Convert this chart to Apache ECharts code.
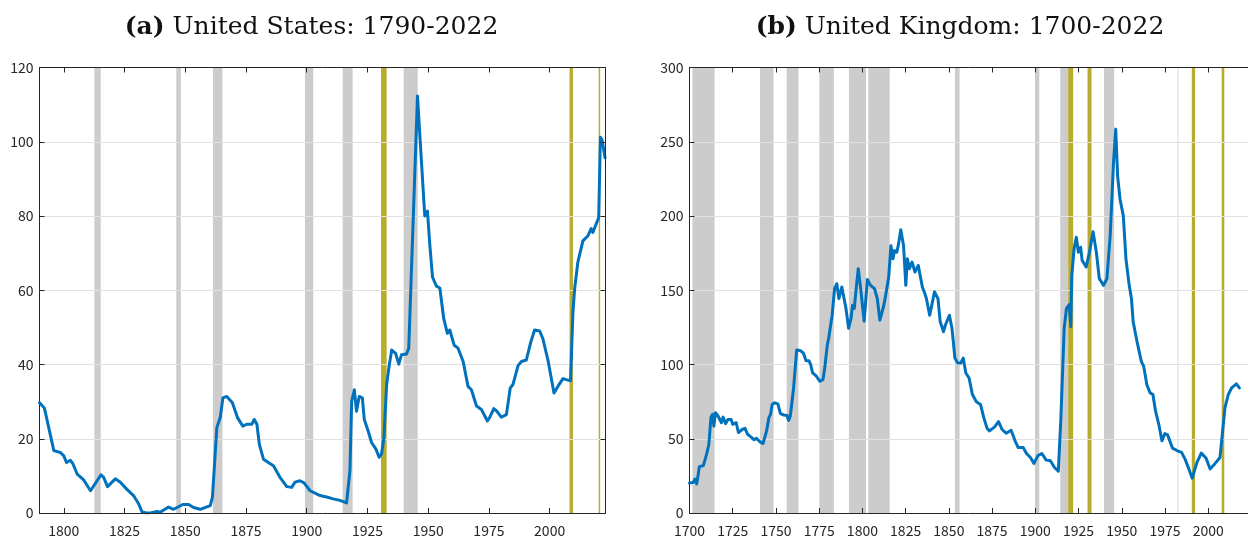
<!DOCTYPE html>
<html>
<head>
<meta charset="utf-8">
<script src="https://cdn.jsdelivr.net/npm/echarts@6/dist/echarts.min.js"></script>
<style>
  html, body { margin: 0; padding: 0; background: #ffffff; }
  #chart { width: 1248px; height: 538px; }
</style>
</head>
<body>
<div id="chart"></div>
<script>
// Public debt as a share of GDP (%).
const usYears = [1790, 1792, 1793.8, 1795.9, 1798.6, 1800, 1801.1, 1802.7, 1803.8, 1805.5, 1808.2, 1811,
  1813.7, 1815.3, 1816.4, 1818, 1821.2, 1823.3, 1825.8, 1828.7, 1830.8, 1832.2, 1834, 1836, 1838.4, 1839.7,
  1843.1, 1845.2, 1849, 1851.4, 1853.4, 1856.2, 1860.3, 1861.2, 1863, 1864.4, 1865.5, 1867.1, 1869.4, 1871.5,
  1873.7, 1875.3, 1877.4, 1878.4, 1879.5, 1880.5, 1882.2, 1884.2, 1886.3, 1889, 1891.8, 1893.8, 1895.2, 1897.2,
  1898.9, 1901.4, 1905.5, 1908.2, 1910.9, 1913.7, 1916.4, 1917.8, 1918.5, 1919.6, 1920.5, 1921.6, 1922.9,
  1923.7, 1925.3, 1926.7, 1928.5, 1929.8, 1930.8, 1931.8, 1932.9, 1934, 1935, 1936.6, 1937.9, 1939, 1941.1,
  1942, 1945.6, 1948.6, 1949.7, 1950.7, 1951.8, 1953.4, 1954.8, 1956.4, 1957.9, 1958.9, 1960.7, 1962.3,
  1964.4, 1966.4, 1967.8, 1969.9, 1971.9, 1974.4, 1975.3, 1977, 1978.3, 1980.1, 1982.2, 1983.8, 1984.9, 1987,
  1988.4, 1990.4, 1992.1, 1993.8, 1995.9, 1997.2, 1999.3, 2001.8, 2003.4, 2005.5, 2008.6, 2009.6, 2010.3,
  2011.6, 2013.7, 2015.7, 2017.1, 2017.8, 2020.2, 2020.9, 2021.6, 2022.8];
const usDebt = [29.7, 28.3, 23.0, 16.8, 16.3, 15.4, 13.6, 14.2, 13.2, 10.5, 8.9, 6.0,
  8.7, 10.3, 9.6, 7.1, 9.2, 8.3, 6.5, 4.7, 2.5, 0.3, 0.0, 0.1, 0.4, 0.2,
  1.6, 1.0, 2.3, 2.3, 1.5, 1.0, 2.0, 4.3, 23.0, 25.7, 31.0, 31.4, 29.7, 25.7,
  23.4, 23.9, 23.9, 25.2, 23.9, 18.5, 14.5, 13.6, 12.7, 9.6, 7.1, 6.9, 8.3, 8.7,
  8.1, 6.0, 4.7, 4.3, 3.8, 3.4, 2.7, 11.4, 30.1, 33.2, 27.4, 31.4, 31.0,
  25.2, 22.1, 19.0, 17.2, 15.0, 15.9, 20.3, 34.6, 39.9, 43.9, 43.0, 40.1, 42.6, 42.8,
  44.4, 112.3, 80.0, 81.3, 72.0, 63.5, 61.1, 60.6, 52.4, 48.4, 49.3, 45.2, 44.4,
  40.8, 34.1, 33.2, 28.8, 27.9, 24.8, 25.7, 28.1, 27.4, 25.8, 26.5, 33.7, 34.6, 39.7,
  40.8, 41.2, 45.7, 49.3, 49.0, 47.0, 41.2, 32.3, 34.1, 36.2, 35.6, 54.2, 60.4,
  67.5, 73.3, 74.6, 76.6, 75.6, 79.6, 101.2, 100.5, 95.7];

const ukYears = [1700, 1702.3, 1703.2, 1704.2, 1705.7, 1708, 1709.9, 1711.2, 1712.4, 1713.3, 1714.1, 1715,
  1716.5, 1718.4, 1719.4, 1720.9, 1722.2, 1724.1, 1725, 1727, 1728.3, 1730.7, 1732.1, 1733.6, 1735.5, 1737.4,
  1738.7, 1741.2, 1742.5, 1744.6, 1745.9, 1746.9, 1747.8, 1749.2, 1751.1, 1752.6, 1754.5, 1756.4, 1757.3,
  1758.3, 1760.2, 1762, 1764.3, 1765.9, 1767.4, 1769.1, 1770, 1771.2, 1773.4, 1775.4, 1777.2, 1778.2, 1779.7,
  1780.5, 1781.6, 1782.5, 1783.9, 1785.2, 1786.4, 1788.1, 1789.2, 1790.5, 1792, 1793.4, 1794.3, 1795.3,
  1796.2, 1797.6, 1799, 1801, 1802.9, 1804.7, 1807, 1808.6, 1810.1, 1812.4, 1813.8, 1815.2, 1816.5, 1817.7,
  1818.6, 1819.9, 1820.9, 1822.2, 1823.8, 1825.1, 1826, 1827.2, 1828.7, 1830.4, 1832.3, 1833.2, 1834.7,
  1836.1, 1837, 1838.9, 1841.7, 1843.7, 1845, 1846.9, 1848, 1850.3, 1851.8, 1853.5, 1855.1, 1856.9, 1858.3,
  1859.8, 1861.7, 1863.6, 1865.9, 1868.3, 1870.2, 1872.1, 1873.5, 1876.5, 1878.7, 1880.7, 1883.1, 1886,
  1888.3, 1890.1, 1893, 1894.9, 1897.2, 1899.2, 1901.5, 1903.8, 1906.3, 1908.7, 1911, 1913.3, 1914.8, 1916.7,
  1918, 1919.6, 1920.5, 1921.1, 1922.4, 1923.7, 1924.9, 1926.2, 1927.1, 1929.4, 1931.3, 1933.4, 1935.3, 1937,
  1939.5, 1941.4, 1943.3, 1945.2, 1946.5, 1947.6, 1949, 1950.9, 1952.4, 1954.3, 1955.6, 1956.6, 1958.8,
  1961.3, 1962.7, 1964.5, 1966.4, 1968, 1969.5, 1971.4, 1973.2, 1974.9, 1976.5, 1979.3, 1982.2, 1984.6,
  1986.6, 1988.8, 1990.7, 1991.8, 1993.5, 1996, 1998.7, 2001.1, 2004, 2006.8, 2007.8, 2009.7, 2011.6, 2013.5,
  2016.3, 2018];
const ukDebt = [20.1, 20.7, 22.9, 19.6, 31.2, 31.9, 39.7, 46.3, 64.2, 66.4, 58.6, 67.5,
  65.3, 60.8, 64.6, 60.2, 63.0, 63.0, 59.7, 60.8, 54.2, 56.4, 57.0, 53.0, 51.3, 49.3,
  50.3, 47.5, 46.8, 55.3, 64.2, 66.4, 73.1, 74.2, 73.5, 66.9, 66.0, 65.7, 62.4,
  65.3, 84.2, 109.8, 109.2, 107.6, 102.5, 102.5, 100.3, 94.3, 92.1, 88.7, 89.8, 97.6, 113.2,
  117.7, 118.1, 133.2, 151.1, 154.4, 144.4, 152.2, 152.2, 137.7, 124.4, 131.0, 139.9, 137.7,
  148.9, 164.5, 151.1, 129.2, 157.3, 153.3, 151.1, 144.4, 129.9, 139.9, 148.9, 158.9, 180.0, 171.2,
  176.7, 175.6, 181.2, 190.7, 180.0, 153.3, 171.2, 164.5, 169.0, 162.3, 166.7, 165.6, 152.0,
  147.8, 144.4, 133.2, 148.9, 144.4, 128.8, 122.1, 126.6, 133.2, 124.4, 104.3, 101.0, 101.0, 104.3,
  94.3, 90.9, 79.8, 74.9, 73.1, 64.2, 57.0, 55.3, 58.0, 61.5, 56.4, 53.7, 55.7,
  48.6, 44.1, 44.1, 40.1, 37.4, 33.4, 38.6, 40.1, 35.6, 35.2, 30.8, 28.1, 64.2, 124.4,
  137.7, 140.4, 125.5, 160.0, 177.8, 185.7, 175.6, 179.0, 170.0, 165.6, 175.6, 189.4, 175.6, 157.8,
  153.3, 157.8, 186.7, 235.8, 258.5, 226.9, 211.3, 200.1, 171.2, 153.3, 144.4, 128.8, 115.5,
  102.1, 98.7, 86.4, 80.9, 79.8, 68.7, 59.7, 48.6, 53.5, 52.6, 43.7, 41.9, 40.8,
  36.3, 29.6, 23.4, 24.1, 34.1, 40.3, 37.0, 29.6, 33.4, 37.4, 37.4, 70.9, 79.8, 84.2,
  86.9, 84.2];

// Shaded periods: wars (grey) and crisis episodes (olive), as [start, end] years.
const usWars = [[1812.6, 1815.2], [1846.3, 1848.2], [1861.4, 1865.3], [1899.3, 1902.7],
  [1914.8, 1918.9], [1939.9, 1945.7]];
const usCrises = [[1930.6, 1932.9], [2008.2, 2009.6], [2020.2, 2020.8]];
const ukWars = [[1701.7, 1714.5], [1740.8, 1748.6], [1756.2, 1763.0], [1775.1, 1783.5],
  [1792.2, 1802.1], [1803.4, 1815.8], [1853.5, 1856.2], [1899.8, 1902.3], [1914.4, 1919.0],
  [1939.7, 1945.6], [1982.3, 1982.7]];
const ukCrises = [[1919.0, 1921.9], [1930.2, 1932.5], [1990.5, 1992.4], [2007.8, 2009.3]];

// Tick labels
const usXTicks = [1800, 1825, 1850, 1875, 1900, 1925, 1950, 1975, 2000];
const ukXTicks = [1700, 1725, 1750, 1775, 1800, 1825, 1850, 1875, 1900, 1925, 1950, 1975, 2000];

const titleA = ['(a)', 'United States: 1790-2022'];
const titleB = ['(b)', 'United Kingdom: 1700-2022'];

const INK = '#262626';
const GREY_BAND = '#cccccc';
const OLIVE_BAND = '#b8ab2e';
const LINE_BLUE = '#0072bd';
const TICK_FONT = '"Noto Sans CJK JP", "Noto Sans", sans-serif';

function pairs(xs, ys) { return xs.map((x, i) => [x, ys[i]]); }
function bands(list, color) {
  return list.map(([s, e]) => [{ xAxis: s, itemStyle: { color: color, opacity: 1 } }, { xAxis: e }]);
}
const plain = (v) => String(v);
const axisLine = { show: true, onZero: false, lineStyle: { color: INK, width: 1 } };

function xAxesFor(gridIndex, min, max, ticks) {
  const tick = { show: true, inside: true, length: 5, lineStyle: { color: INK, width: 1 }, customValues: ticks };
  return [
    { type: 'value', gridIndex, min, max, position: 'bottom', z: 10,
      axisLine, axisTick: tick, splitLine: { show: false },
      axisLabel: { customValues: ticks, formatter: plain, color: INK, fontSize: 14, fontFamily: TICK_FONT, margin: 11 } },
    { type: 'value', gridIndex, min, max, position: 'top', z: 10,
      axisLine, axisTick: tick, splitLine: { show: false }, axisLabel: { show: false } }
  ];
}
function yAxesFor(gridIndex, max, interval, withRight) {
  const tick = { show: true, inside: true, length: 5, lineStyle: { color: INK, width: 1 } };
  const list = [
    { type: 'value', gridIndex, min: 0, max, interval, position: 'left', z: 3,
      axisLine, axisTick: tick,
      splitLine: { show: true, lineStyle: { color: '#e2e2e2', width: 1 } },
      axisLabel: { formatter: plain, color: INK, fontSize: 14, fontFamily: TICK_FONT, margin: 6 } }
  ];
  if (withRight) {
    list.push({ type: 'value', gridIndex, min: 0, max, interval, position: 'right', z: 10,
      axisLine, axisTick: tick, splitLine: { show: false }, axisLabel: { show: false } });
  }
  return list;
}

function titleText(x, parts) {
  return {
    type: 'text', x: x, y: 27, z: 10,
    style: {
      text: '{b|' + parts[0] + '}{n| ' + parts[1] + '}',
      align: 'center', verticalAlign: 'middle',
      rich: {
        b: { fontFamily: '"DejaVu Serif", serif', fontWeight: 'bold', fontSize: 25, fill: '#111' },
        n: { fontFamily: '"DejaVu Serif", serif', fontWeight: 'normal', fontSize: 25, fill: '#111' }
      }
    }
  };
}

const chart = echarts.init(document.getElementById('chart'), null, { renderer: 'canvas' });
chart.setOption({
  animation: false,
  backgroundColor: '#ffffff',
  grid: [
    { left: 39.5, top: 67.5, width: 566, height: 448 },
    { left: 689.5, top: 67.5, width: 567, height: 448 }
  ],
  xAxis: [].concat(xAxesFor(0, 1790, 2023, usXTicks), xAxesFor(1, 1700, 2023, ukXTicks)),
  yAxis: [].concat(yAxesFor(0, 120, 20, true), yAxesFor(1, 300, 50, false)),
  graphic: [titleText(311.5, titleA), titleText(960, titleB)],
  series: [
    { type: 'line', xAxisIndex: 0, yAxisIndex: 0, data: [], z: 1, silent: true,
      markArea: { silent: true, data: bands(usWars, GREY_BAND).concat(bands(usCrises, OLIVE_BAND)) } },
    { type: 'line', xAxisIndex: 2, yAxisIndex: 2, data: [], z: 1, silent: true,
      markArea: { silent: true, data: bands(ukWars, GREY_BAND).concat(bands(ukCrises, OLIVE_BAND)) } },
    { type: 'line', xAxisIndex: 0, yAxisIndex: 0, data: pairs(usYears, usDebt), z: 5,
      showSymbol: false, symbol: 'none', clip: true,
      lineStyle: { color: LINE_BLUE, width: 3, cap: 'round', join: 'round' } },
    { type: 'line', xAxisIndex: 2, yAxisIndex: 2, data: pairs(ukYears, ukDebt), z: 5,
      showSymbol: false, symbol: 'none', clip: true,
      lineStyle: { color: LINE_BLUE, width: 3, cap: 'round', join: 'round' } }
  ]
});
</script>
</body>
</html>
